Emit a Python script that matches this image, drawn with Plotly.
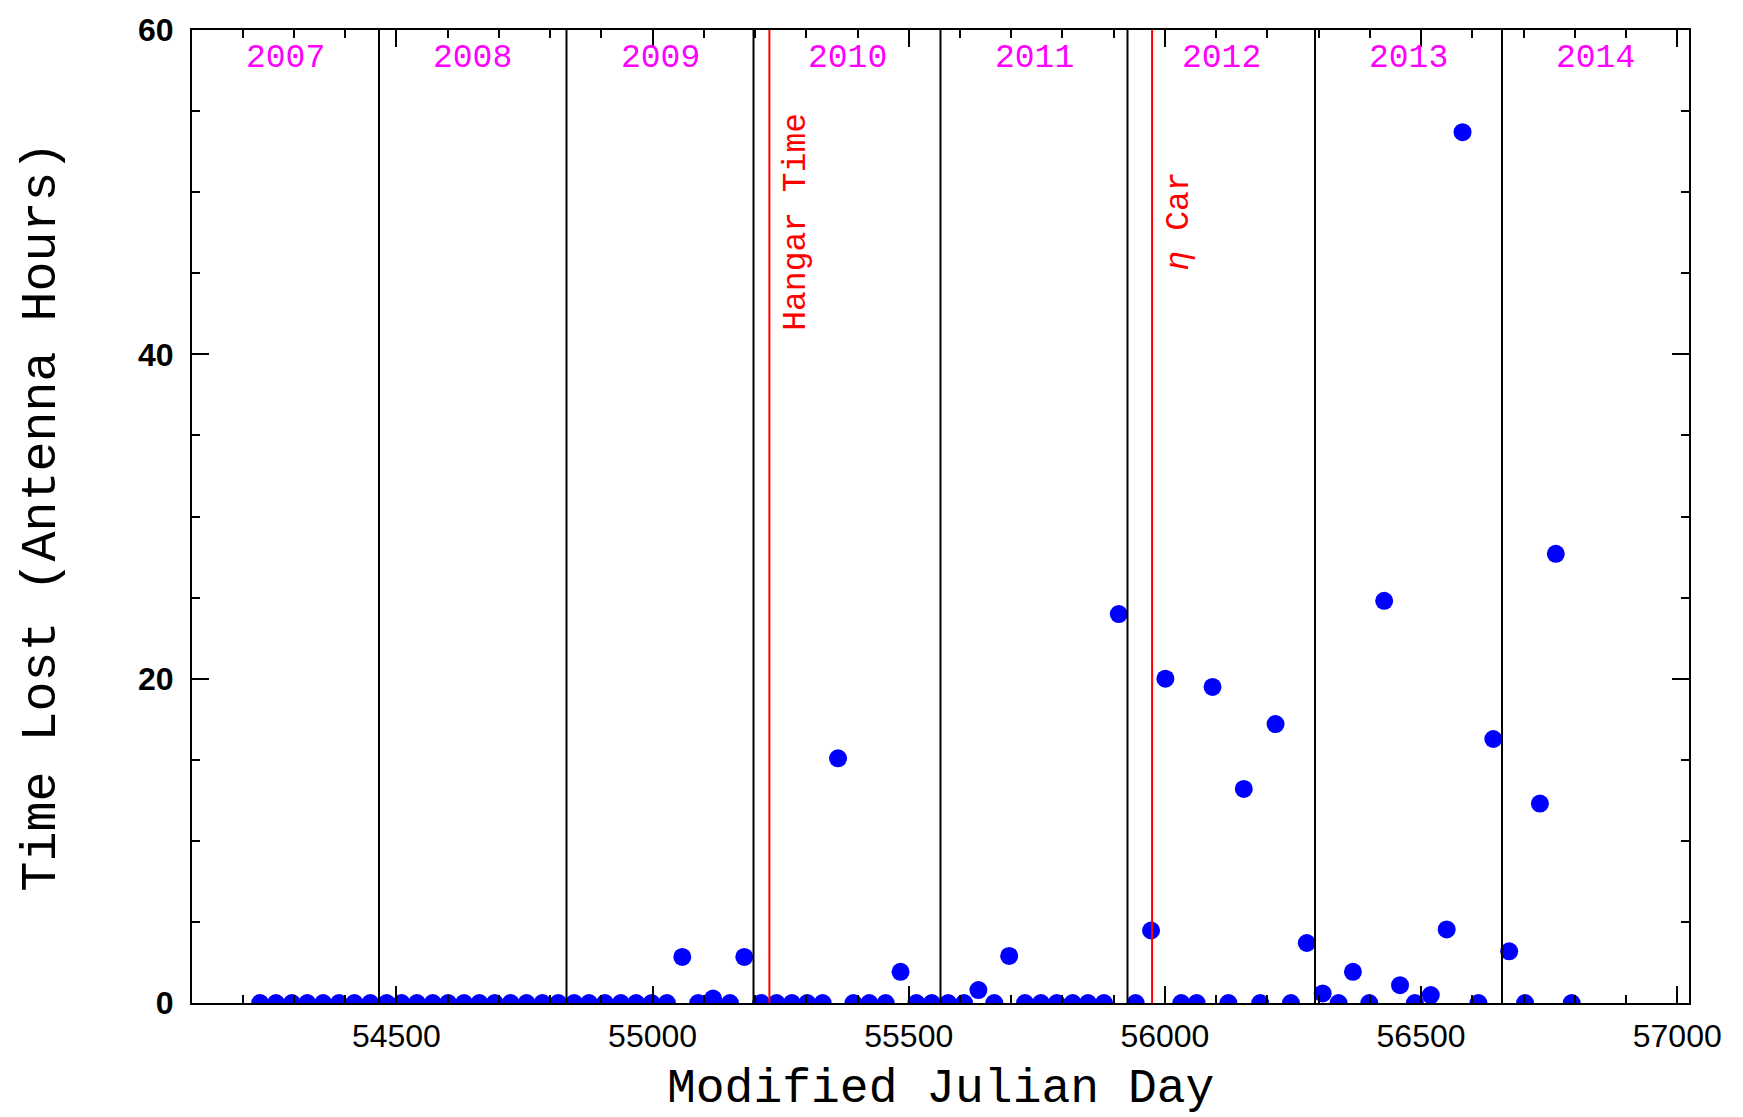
import plotly.graph_objects as go

# ---- data ----
mjd = [54234, 54265, 54296, 54326, 54357, 54388, 54418, 54449, 54481, 54510,
       54540, 54571, 54601, 54632, 54662, 54692, 54723, 54754, 54785, 54816,
       54847, 54876, 54907, 54938, 54968, 54998, 55028, 55058, 55089, 55118,
       55151, 55179, 55212, 55242, 55272, 55302, 55332, 55362, 55392, 55423,
       55455, 55484, 55515, 55545, 55577, 55608, 55636, 55667, 55696, 55727,
       55758, 55789, 55820, 55850, 55881, 55910, 55943, 55973, 56001, 56032,
       56062, 56093, 56124, 56154, 56186, 56216, 56246, 56277, 56308, 56339,
       56367, 56399, 56428, 56459, 56488, 56519, 56550, 56581, 56612, 56641,
       56672, 56703, 56732, 56763, 56794]
hours_lost = [0, 0, 0, 0, 0, 0, 0, 0, 0, 0,
              0, 0, 0, 0, 0, 0, 0, 0, 0, 0,
              0, 0, 0, 0, 0, 0, 0, 2.84, 0, 0.27,
              0, 2.84, 0, 0, 0, 0, 0, 15.09, 0, 0,
              0, 1.92, 0, 0, 0, 0, 0.80, 0, 2.90, 0,
              0, 0, 0, 0, 0, 23.98, 0, 4.47, 20.0, 0,
              0, 19.49, 0, 13.2, 0, 17.2, 0, 3.70, 0.59, 0,
              1.92, 0, 24.8, 1.10, 0, 0.49, 4.54, 53.7, 0, 16.28,
              3.19, 0, 12.3, 27.7, 0]

year_starts = [54101, 54466, 54832, 55197, 55562, 55927, 56293, 56658, 57023]
year_labels = ["2007", "2008", "2009", "2010", "2011", "2012", "2013", "2014"]

event_mjd = [55228, 55975]
event_labels = ["Hangar Time", "<i>η</i> Car"]

x_range = [year_starts[0], year_starts[-1]]
y_range = [0, 60]

fig = go.Figure()
fig.add_trace(go.Scatter(
    x=mjd, y=hours_lost, mode="markers",
    marker=dict(color="#0000FF", size=18, line=dict(width=0)),
    showlegend=False, cliponaxis=True,
))

shapes = []
for yb in year_starts[1:-1]:
    shapes.append(dict(type="line", xref="x", yref="paper", x0=yb, x1=yb, y0=0, y1=1,
                       line=dict(color="black", width=2), layer="above"))
for em in event_mjd:
    shapes.append(dict(type="line", xref="x", yref="paper", x0=em, x1=em, y0=0, y1=1,
                       line=dict(color="#FF0000", width=2), layer="above"))

annotations = []
for i, lab in enumerate(year_labels):
    xm = (year_starts[i] + year_starts[i + 1]) / 2
    annotations.append(dict(x=xm, y=58.25, xref="x", yref="y", text=lab, showarrow=False,
                            font=dict(family="Liberation Mono", size=33, color="#FF00FF"),
                            xanchor="center", yanchor="middle"))
for em, lab in zip(event_mjd, event_labels):
    annotations.append(dict(x=em, y=48.2, xref="x", yref="y", text=lab, showarrow=False,
                            textangle=-90, xshift=27,
                            font=dict(family="Liberation Mono", size=33, color="#FF0000"),
                            xanchor="center", yanchor="middle"))
annotations.append(dict(x=0.5, y=0, xref="paper", yref="paper", yshift=-86,
                        text="Modified Julian Day", showarrow=False,
                        font=dict(family="Liberation Mono", size=48, color="black"),
                        xanchor="center", yanchor="middle"))
annotations.append(dict(x=0, y=0.5, xref="paper", yref="paper", xshift=-151,
                        text="Time Lost (Antenna Hours)", showarrow=False, textangle=-90,
                        font=dict(family="Liberation Mono", size=50, color="black"),
                        xanchor="center", yanchor="middle"))

axis_common = dict(showgrid=False, zeroline=False, showline=True, linecolor="black",
                   linewidth=2, mirror="ticks", ticks="inside", ticklen=17, tickwidth=2,
                   tickcolor="black")

fig.update_layout(
    width=1743, height=1117,
    margin=dict(l=192, r=54, t=24, b=114),
    paper_bgcolor="white", plot_bgcolor="white",
    xaxis=dict(range=x_range, tick0=0, dtick=500, tickformat="d",
               tickfont=dict(family="Liberation Sans", size=32, color="black"),
               minor=dict(dtick=100, ticks="inside", ticklen=8, tickwidth=2, tickcolor="black"),
               ticklabelstandoff=4, **axis_common),
    yaxis=dict(range=y_range, tick0=0, dtick=20, tickformat="d",
               tickfont=dict(family="Liberation Sans", size=32, color="black", weight="bold"),
               minor=dict(dtick=5, ticks="inside", ticklen=8, tickwidth=2, tickcolor="black"),
               ticklabelstandoff=10, **axis_common),
    shapes=shapes, annotations=annotations,
)

fig.write_html("out.html")
